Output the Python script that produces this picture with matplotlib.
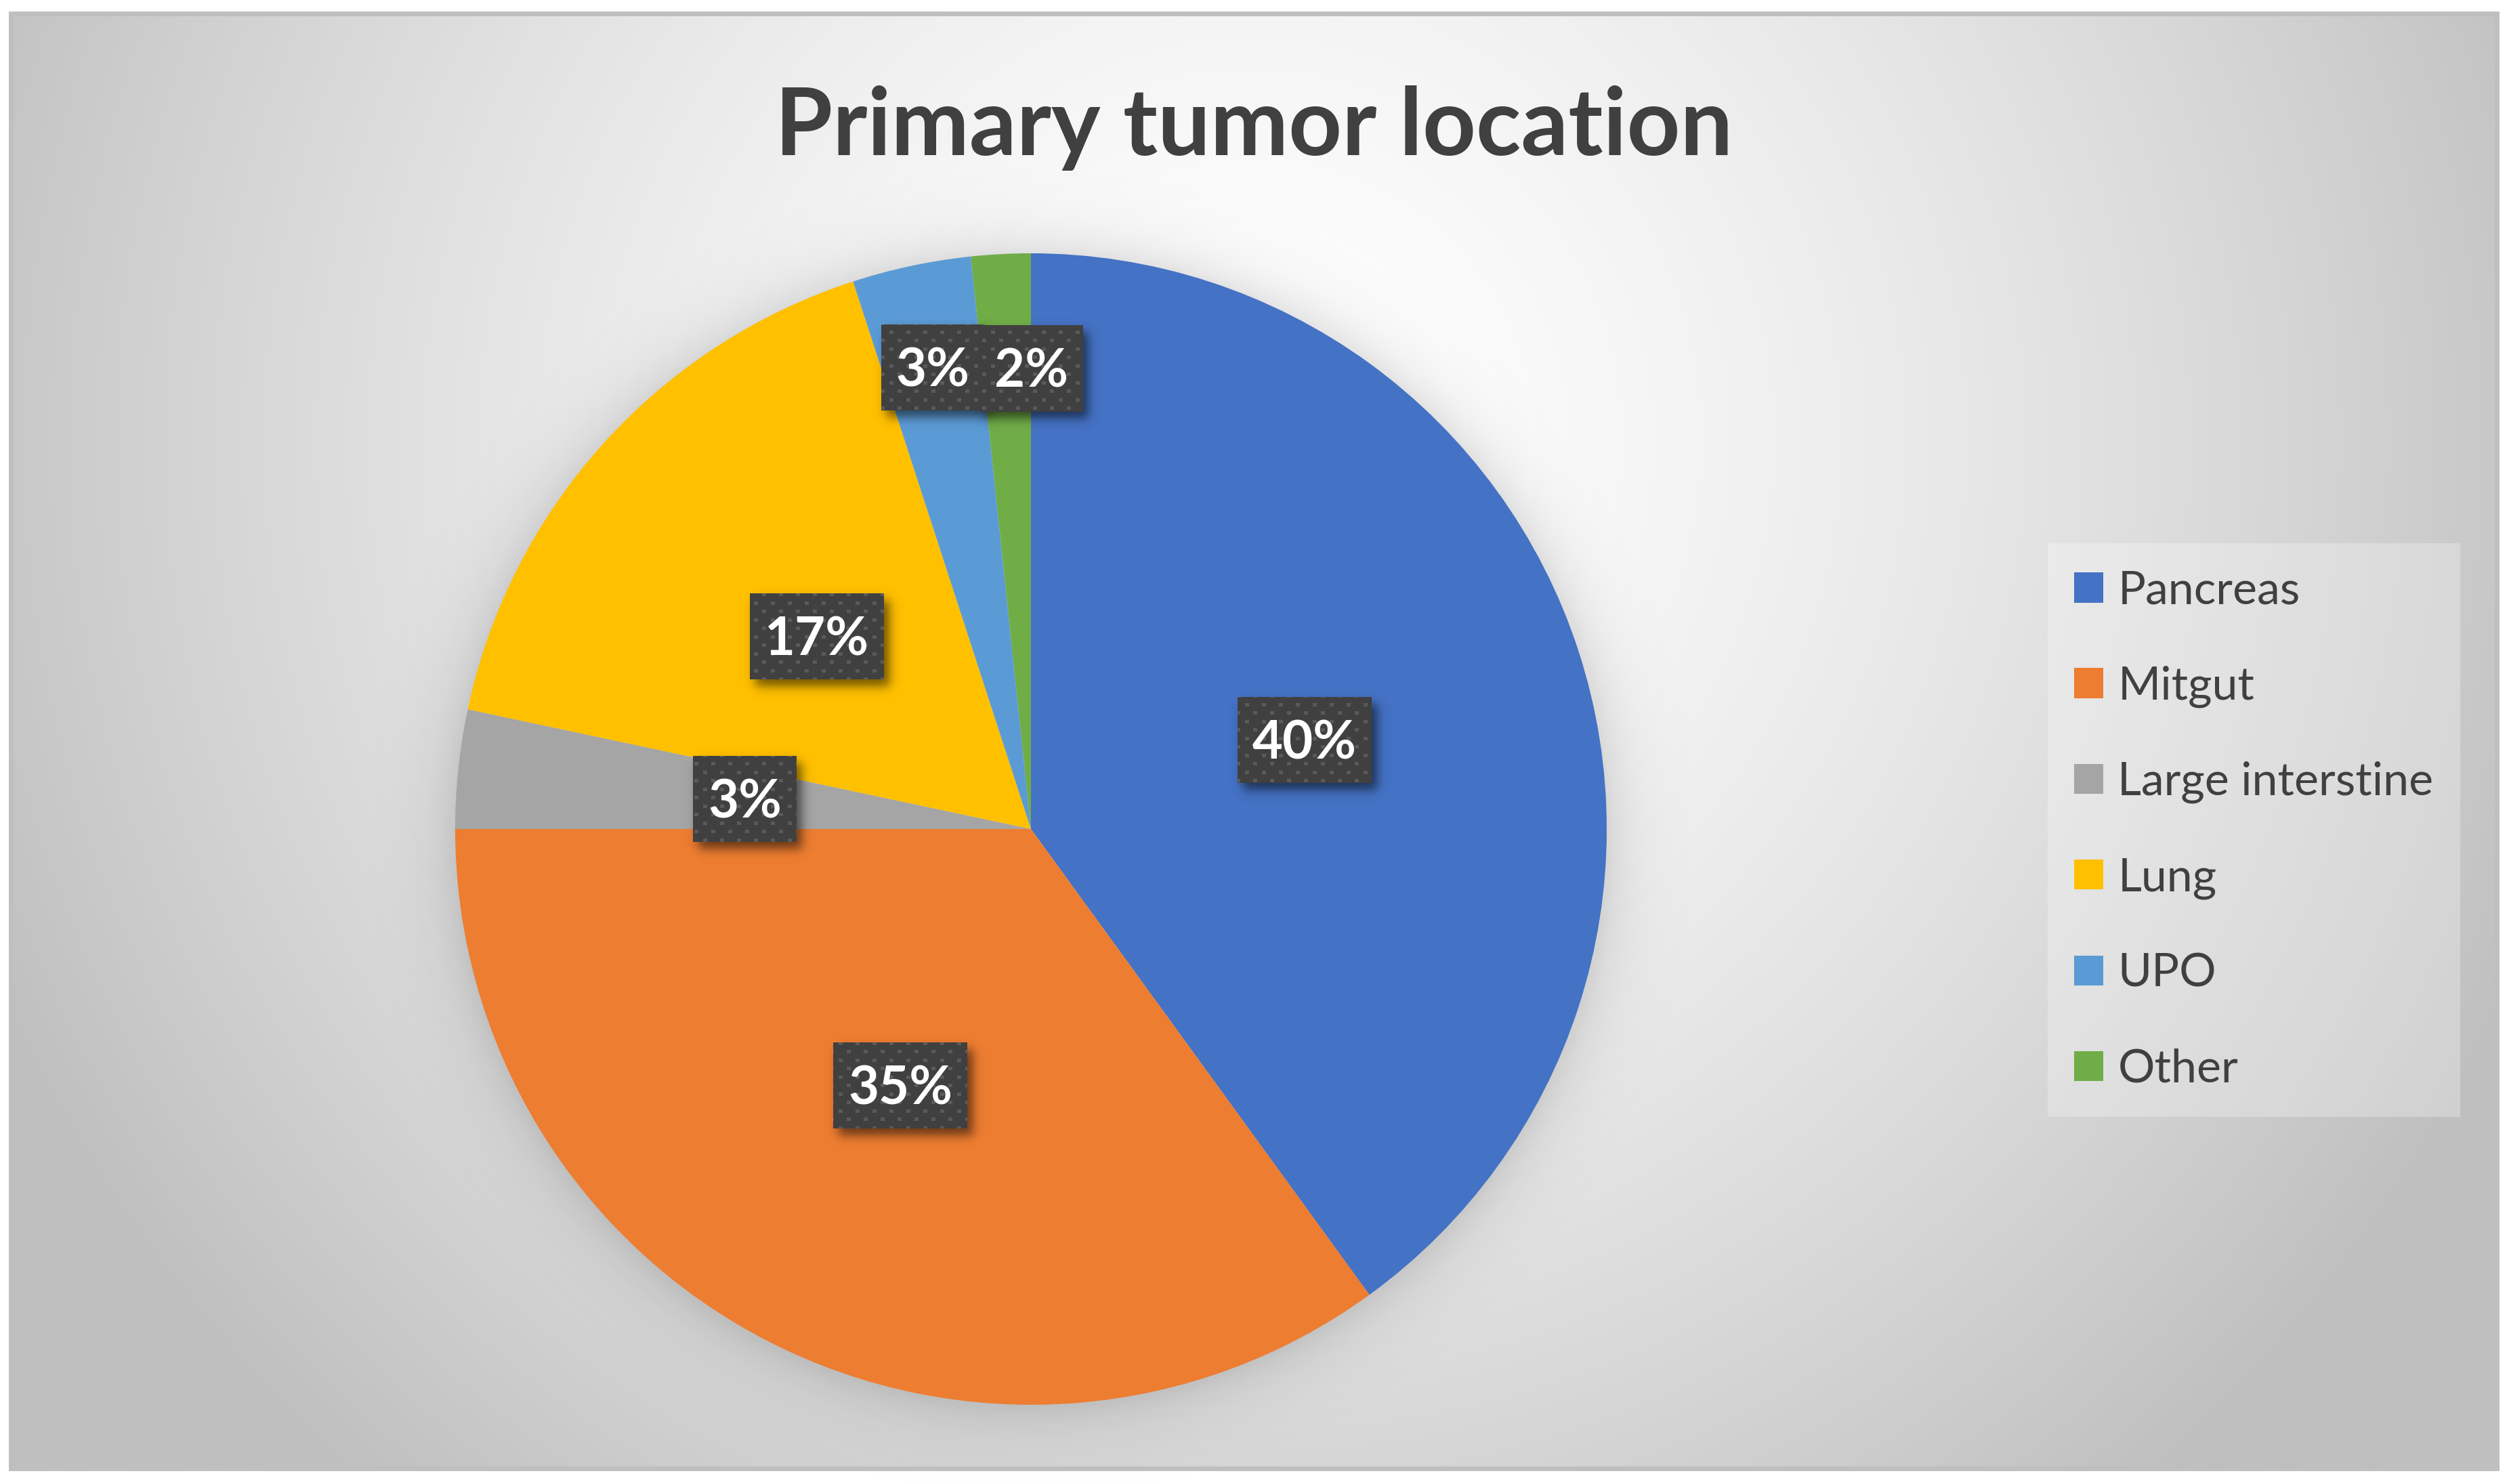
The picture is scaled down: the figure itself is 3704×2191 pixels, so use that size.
import numpy as np
import matplotlib
matplotlib.use("Agg")
import matplotlib.pyplot as plt
from matplotlib.patches import Rectangle

# ---- data ----
CATEGORIES = ["Pancreas", "Mitgut", "Large interstine", "Lung", "UPO", "Other"]
COUNTS = [24, 21, 2, 10, 2, 1]
COLORS = ["#4472C4", "#ED7D31", "#A5A5A5", "#FFC000", "#5B9BD5", "#70AD47"]
TITLE = "Primary tumor location"

# label placement (fraction of radius, angle nudge in degrees)
LABEL_DIST = [0.5, 0.5, 0.5, 0.5, 0.82, 0.80]
LABEL_NUDGE = [0, 0, 0, 0, 0, -3]

W, H = 3704, 2191
FRAME = (16, 20, 3686, 2168)          # x0, y0, x1, y1 in pixel coords (y down)
PIE_C = (1522, 1224)
PIE_R = 850
TEXT_DARK = "#404040"

plt.rcParams["font.family"] = ["Lato", "DejaVu Sans"]


def fy(y):
    return H - y


fig = plt.figure(figsize=(W / 100, H / 100), dpi=100)
ax = fig.add_axes([0, 0, 1, 1])
ax.set_axis_off()

# ---- chart area gradient ----
x0, y0, x1, y1 = FRAME
step = 4
gx = np.arange(x0, x1, step) + step / 2
gy = np.arange(y0, y1, step) + step / 2
GX, GY = np.meshgrid(gx, gy)
d = np.hypot(GX - 1850, GY - 650) / 1930.0
drop = np.clip(59 * d ** 1.5, 0, 64)
bg = (255 - drop) / 255.0
ax.imshow(np.dstack([bg, bg, bg]), extent=(x0, x1, fy(y1), fy(y0)),
          origin="upper", interpolation="bilinear", zorder=0)

# ---- soft shadow around the pie ----
m = 120
sx = np.arange(PIE_C[0] - PIE_R - m, PIE_C[0] + PIE_R + m, 2) + 1
sy = np.arange(PIE_C[1] - PIE_R - m, PIE_C[1] + PIE_R + m, 2) + 1
SX, SY = np.meshgrid(sx, sy)
dd = np.hypot(SX - PIE_C[0], SY - (PIE_C[1] + 4)) - PIE_R
alpha = 0.11 * np.exp(-np.clip(dd, 0, None) / 38.0)
sh = np.zeros(SX.shape + (4,))
sh[..., 3] = alpha
ax.imshow(sh, extent=(sx[0] - 1, sx[-1] + 1, fy(sy[-1] + 1), fy(sy[0] - 1)),
          origin="upper", interpolation="bilinear", zorder=1)

# ---- pie ----
values = np.array(COUNTS, dtype=float)
pct = values / values.sum() * 100
wedges, _ = ax.pie(values, colors=COLORS, startangle=90, counterclock=False,
                   center=(PIE_C[0], fy(PIE_C[1])), radius=PIE_R,
                   wedgeprops=dict(linewidth=0))
for w in wedges:
    w.set_zorder(2)

ax.set_xlim(0, W)
ax.set_ylim(0, H)
ax.set_aspect("auto")

# ---- data labels (dark dotted boxes with shadow) ----
renderer = fig.canvas.get_renderer()
BOX_H = 127
PAD_X = 22


def soft(v, a, b, s):
    return 0.5 * (np.tanh((v - a) / s) - np.tanh((v - b) / s))


for i, w in enumerate(wedges):
    mid = np.deg2rad((w.theta1 + w.theta2) / 2 + LABEL_NUDGE[i])
    cx = PIE_C[0] + LABEL_DIST[i] * PIE_R * np.cos(mid)
    cy = PIE_C[1] - LABEL_DIST[i] * PIE_R * np.sin(mid)
    txt = ax.text(cx, fy(cy + 28), f"{pct[i]:.0f}%", ha="center", va="baseline",
                  fontsize=56, fontweight="bold", color="white", zorder=6 + i * 0.1)
    tw = txt.get_window_extent(renderer).width
    bw = tw + 2 * PAD_X
    bx0, bx1 = cx - bw / 2, cx + bw / 2
    by0, by1 = cy - BOX_H / 2, cy + BOX_H / 2

    # shadow
    mg = 40
    px = np.arange(int(bx0) - mg, int(bx1) + mg) + 0.5
    py = np.arange(int(by0) - mg, int(by1) + mg) + 0.5
    PX, PY = np.meshgrid(px, py)
    a = 0.55 * soft(PX, bx0 + 8, bx1 + 8, 9) * soft(PY, by0 + 10, by1 + 10, 9)
    simg = np.zeros(PX.shape + (4,))
    simg[..., 3] = a
    ax.imshow(simg, extent=(px[0] - 0.5, px[-1] + 0.5, fy(py[-1] + 0.5), fy(py[0] - 0.5)),
              origin="upper", interpolation="bilinear", zorder=4 + i * 0.1)

    # dotted fill
    qx = np.arange(int(round(bx0)), int(round(bx1)))
    qy = np.arange(int(round(by0)), int(round(by1)))
    QX, QY = np.meshgrid(qx, qy)
    row = np.floor(QY / 12.5).astype(int)
    on = ((QY % 12.5) < 5) & (((QX + (row % 2) * 12.5) % 25) < 6)
    base = np.full(QX.shape + (3,), 0x40 / 255.0)
    base[on] = 0x5A / 255.0
    ax.imshow(base, extent=(qx[0], qx[-1] + 1, fy(qy[-1] + 1), fy(qy[0])),
              origin="upper", interpolation="nearest", zorder=5 + i * 0.1)

ax.set_xlim(0, W)
ax.set_ylim(0, H)

# ---- title ----
ax.text((x0 + x1) / 2, fy(229), TITLE, ha="center", va="baseline",
        fontsize=99, fontweight="bold", color=TEXT_DARK, zorder=8)

# ---- legend ----
fs = 49
leg = ax.legend(wedges, CATEGORIES, loc="upper left",
                bbox_to_anchor=(3023, fy(802)), bbox_transform=ax.transData,
                borderaxespad=0, fontsize=fs, frameon=True, fancybox=False,
                facecolor="white", framealpha=0.28, edgecolor="none",
                handlelength=0.62, handleheight=0.62, handletextpad=0.32,
                borderpad=0.58, labelspacing=1.16)
for t in leg.get_texts():
    t.set_color(TEXT_DARK)
leg.set_zorder(9)

# ---- chart frame ----
ax.add_patch(Rectangle((x0, fy(y1)), x1 - x0, y1 - y0, fill=False,
                       edgecolor="#BFBFBF", linewidth=5.0, zorder=10))

fig.savefig("out.png", dpi=100, facecolor="white")
